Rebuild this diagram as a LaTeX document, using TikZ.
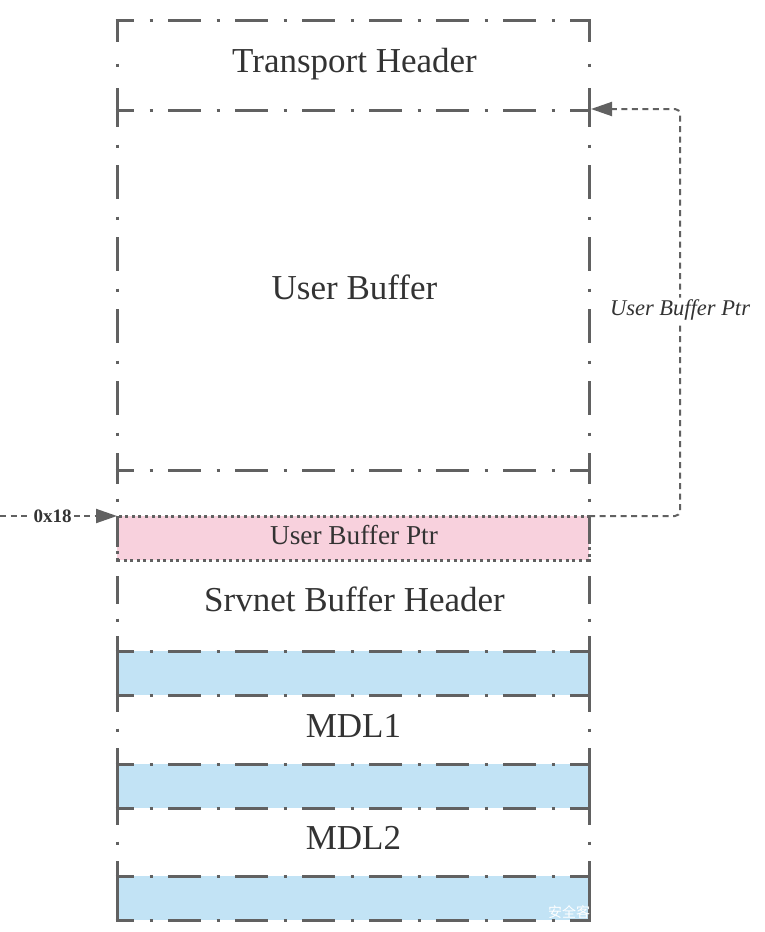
\documentclass[tikz,border=0pt]{standalone}
\usepackage{fontspec}
\setmainfont{Liberation Serif}
\newfontfamily\cjkfont{Noto Sans CJK SC}
\usetikzlibrary{arrows.meta}
\definecolor{lg}{HTML}{616161}
\definecolor{tc}{HTML}{333333}
\definecolor{pinkf}{HTML}{F8D1DD}
\definecolor{bluef}{HTML}{C2E3F5}
\tikzset{
  hline/.style={draw=lg, line width=3pt, dash pattern=on 33pt off 15.5pt on 3pt off 15.5pt, dash phase=14.5pt},
  vth/.style={draw=lg, line width=3pt, dash pattern=on 44pt off 21.5pt on 3pt off 21.5pt, dash phase=22pt},
  vub/.style={draw=lg, line width=3pt, dash pattern=on 34pt off 17.5pt on 3pt off 17.5pt, dash phase=17pt},
  vsb/.style={draw=lg, line width=3pt, dash pattern=on 28pt off 14.5pt on 3pt off 14.5pt, dash phase=14pt},
  vmd/.style={draw=lg, line width=3pt, dash pattern=on 33pt off 16.5pt on 3pt off 16.5pt, dash phase=16pt},
  vsolid/.style={draw=lg, line width=3pt},
  lab/.style={text=tc, font=\fontsize{35}{40}\selectfont, inner sep=0pt},
  ptrline/.style={draw=lg, line width=2pt, dash pattern=on 6pt off 4.5pt},
  tip/.style={-{Triangle[length=21pt,width=14pt]}},
  edgelab/.style={fill=white, text=tc, inner sep=2pt},
}
\begin{document}
\begin{tikzpicture}[x=1pt,y=-1pt]
\useasboundingbox (0,0) rectangle (765,932);
% blue bands
\fill[bluef] (117,651) rectangle (589,695);
\fill[bluef] (117,764) rectangle (589,808);
\fill[bluef] (117,876) rectangle (589,920);
% pink pointer box
\node[draw=lg, fill=pinkf, line width=3pt, dash pattern=on 3pt off 3.6pt,
      minimum width=472pt, minimum height=44pt, outer sep=0pt, inner sep=0pt] (ptr) at (353,538) {};
\node[text=tc, font=\fontsize{27.3}{32}\selectfont, inner sep=0pt] (ptrlab) at (354,535) {User Buffer Ptr};
% horizontal edges
\foreach \y in {20,110,470,651,695,764,808,876,920}
  \draw[hline] (115.5,\y) -- (590.5,\y);
% vertical edges
\foreach \x in {117,589}{
  \draw[vth] (\x,20) -- (\x,110);
  \draw[vub] (\x,110) -- (\x,470);
  \draw[vsb] (\x,470) -- (\x,651);
  \draw[vsolid] (\x,651) -- (\x,695);
  \draw[vmd] (\x,695) -- (\x,764);
  \draw[vsolid] (\x,764) -- (\x,808);
  \draw[vmd] (\x,808) -- (\x,876);
  \draw[vsolid] (\x,876) -- (\x,920);
}
% labels
\node[lab] (th) at (354.5,64) {Transport Header};
\node[lab] (ub) at (354.5,287) {User Buffer};
\node[lab] (sb) at (354.5,599) {Srvnet Buffer Header};
\node[lab] (m1) at (353.5,726) {MDL1};
\node[lab] (m2) at (353.5,838) {MDL2};
% connectors
\coordinate (src) at (0,516);
\draw[ptrline, tip] (src) -- node[pos=0.45, edgelab, font=\fontsize{19}{22}\selectfont\bfseries] {0x18} (ptr.north west);
\coordinate (c1) at (680,516);
\coordinate (c2) at (680,109);
\coordinate (tgt) at (591,109);
\draw[ptrline, tip, rounded corners=5pt] (ptr.north east) -- (c1) -- node[pos=0.506, edgelab, font=\fontsize{22.5}{26}\selectfont\itshape] {User Buffer Ptr} (c2) -- (tgt);
% watermark
\node[text=white, font=\cjkfont\fontsize{14}{16}\selectfont, inner sep=0pt] (wm) at (569,912) {安全客};
\end{tikzpicture}
\end{document}
